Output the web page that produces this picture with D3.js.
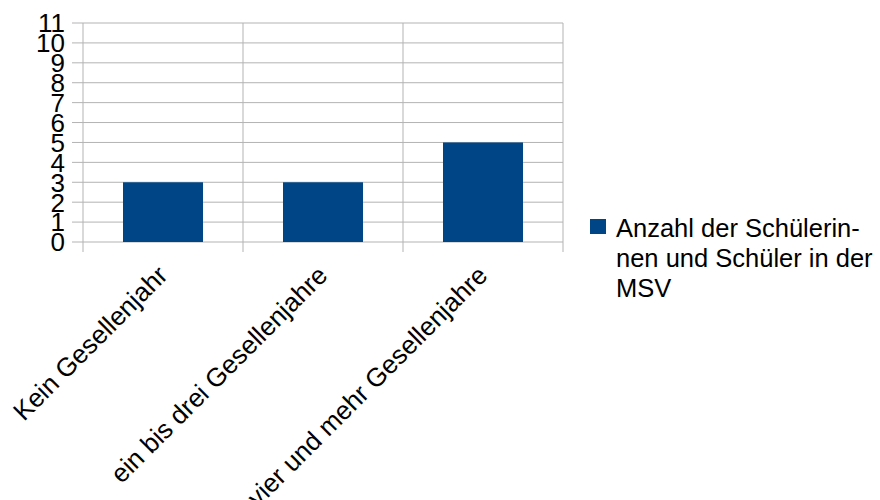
<!DOCTYPE html>
<html>
<head>
<meta charset="utf-8">
<script src="https://cdn.jsdelivr.net/npm/d3@7"></script>
<style>
  body { margin: 0; background: #fff; }
  svg { display: block; font-family: "Liberation Sans", Arial, sans-serif; }
</style>
</head>
<body>
<svg id="chart" width="880" height="500"></svg>
<script>
// Chart data
const categories = ["Kein Gesellenjahr", "ein bis drei Gesellenjahre", "vier und mehr Gesellenjahre"];
const values = [3, 3, 5];
const yTicks = [0, 1, 2, 3, 4, 5, 6, 7, 8, 9, 10, 11];
const seriesName = ["Anzahl der Schülerin-", "nen und Schüler in der", "MSV"];

const svg = d3.select("#chart");
const plot = { left: 83, right: 563, top: 23, bottom: 242 };
const barColor = "#004586";
const gridColor = "#b3b3b3";

const x = d3.scaleBand().domain(categories).range([plot.left, plot.right]).paddingInner(0).paddingOuter(0);
const y = d3.scaleLinear().domain([0, 11]).range([plot.bottom, plot.top]);

// Horizontal gridlines plus left tick marks
svg.append("g").selectAll("line").data(yTicks).join("line")
  .attr("x1", plot.left - 11).attr("x2", plot.right)
  .attr("y1", d => y(d)).attr("y2", d => y(d))
  .attr("stroke", gridColor).attr("stroke-width", 1);

// Vertical category separators
const seps = [plot.left, ...categories.map(c => x(c) + x.bandwidth())];
svg.append("g").selectAll("line").data(seps).join("line")
  .attr("x1", d => d).attr("x2", d => d)
  .attr("y1", plot.top).attr("y2", plot.bottom + 10)
  .attr("stroke", gridColor).attr("stroke-width", 1);

// Bars
const barW = x.bandwidth() * 0.5;
svg.append("g").selectAll("rect").data(values).join("rect")
  .attr("x", (d, i) => x(categories[i]) + (x.bandwidth() - barW) / 2)
  .attr("width", barW)
  .attr("y", d => y(d))
  .attr("height", d => y(0) - y(d))
  .attr("fill", barColor);

// Y tick labels
svg.append("g").selectAll("text").data(yTicks).join("text")
  .attr("x", plot.left - 18)
  .attr("y", d => y(d))
  .attr("dy", "0.36em")
  .attr("text-anchor", "end")
  .attr("font-size", 26)
  .attr("fill", "#000")
  .text(d => d);

// Rotated category labels
svg.append("g").selectAll("text").data(categories).join("text")
  .attr("transform", c => `translate(${x(c) + x.bandwidth() / 2 + 6},${plot.bottom + 35}) rotate(-45)`)
  .attr("text-anchor", "end")
  .attr("font-size", 26)
  .attr("fill", "#000")
  .text(c => c);

// Legend
const lg = svg.append("g").attr("transform", "translate(590,219)");
lg.append("rect").attr("width", 16).attr("height", 15).attr("fill", barColor);
lg.selectAll("text").data(seriesName).join("text")
  .attr("x", 26)
  .attr("y", (d, i) => 18 + i * 30)
  .attr("font-size", 25.5)
  .attr("fill", "#000")
  .text(d => d);
</script>
</body>
</html>
